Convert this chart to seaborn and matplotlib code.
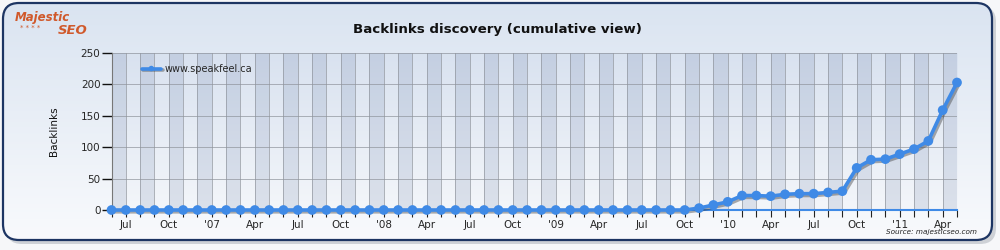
import numpy as np
import pandas as pd
import matplotlib
matplotlib.use("Agg")
import matplotlib.pyplot as plt
import matplotlib.patheffects as pe
from matplotlib.patches import FancyBboxPatch
import seaborn as sns

# ---------------- data ----------------
months = pd.date_range("2006-06-01", periods=60, freq="MS")
backlinks = [0, 0, 0, 0, 0, 0, 0, 0, 0, 0,
             0, 0, 0, 0, 0, 0, 0, 0, 0, 0,
             0, 0, 0, 0, 0, 0, 0, 0, 0, 0,
             0, 0, 0, 0, 0, 0, 0, 0, 0, 0,
             0, 3, 8, 13, 23, 23, 22, 25, 26, 26,
             28, 30, 67, 80, 81, 89, 97, 110, 159, 203]
tick_labels = ["Jul", "Oct", "'07", "Apr", "Jul", "Oct", "'08", "Apr", "Jul", "Oct",
               "'09", "Apr", "Jul", "Oct", "'10", "Apr", "Jul", "Oct", "'11", "Apr"]
series_name = "www.speakfeel.ca"
title = "Backlinks discovery (cumulative view)"
y_ticks = [0, 50, 100, 150, 200, 250]

df = pd.DataFrame({"idx": np.arange(len(months)), "month": months,
                   "Backlinks": backlinks, "site": series_name})

sns.set_theme(style="white")
plt.rcParams["font.family"] = ["DejaVu Sans"]

fig = plt.figure(figsize=(10, 2.5), dpi=100)
fig.patch.set_facecolor("#f6f7f9")

# frame background with gradient
bg = fig.add_axes([0, 0, 1, 1], zorder=-10)
bg.set_axis_off()
bg.set_xlim(0, 1000)
bg.set_ylim(250, 0)
shadow = FancyBboxPatch((6, 6), 990, 238, boxstyle="round,pad=0,rounding_size=16",
                        facecolor="#c4c8ce", edgecolor="none", alpha=0.8, zorder=-1)
bg.add_patch(shadow)
grad = np.linspace(0, 1, 256)[:, None]
top = np.array([0.855, 0.894, 0.945])
bot = np.array([0.975, 0.98, 0.99])
img = top[None, None, :] * (1 - grad[..., None]) + bot[None, None, :] * grad[..., None]
im = bg.imshow(np.repeat(img, 2, axis=1), extent=[3, 992, 240, 3], aspect="auto", zorder=0)
clip = FancyBboxPatch((3, 3), 989, 237, boxstyle="round,pad=0,rounding_size=16",
                      facecolor="none", edgecolor="none", transform=bg.transData)
bg.add_patch(clip)
im.set_clip_path(clip)
frame = FancyBboxPatch((3, 3), 989, 237, boxstyle="round,pad=0,rounding_size=16",
                       facecolor="none", edgecolor="#1d3563", linewidth=1.6, zorder=2)
bg.add_patch(frame)

# logo & title & source
bg.text(15, 17, "Majestic", color="#d0592b", fontsize=8.5, fontweight="bold",
        fontstyle="italic", ha="left", va="center", zorder=3)
bg.text(20, 28.5, "* * * *", color="#d0592b", fontsize=5, ha="left", va="center", zorder=3)
bg.text(58, 31, "SEO", color="#d0592b", fontsize=9.5, fontweight="bold",
        fontstyle="italic", ha="left", va="center", zorder=3)
bg.text(497, 30, title, fontsize=9.6, fontweight="bold", ha="center", va="center",
        color="#111111", zorder=3)
bg.text(977, 232, "Source: majesticseo.com", fontsize=5.2, fontstyle="italic",
        ha="right", va="center", color="#222222", zorder=3)

# plot axes
ax = fig.add_axes([0.1115, 0.16, 0.8455, 0.628])
ax.set_xlim(0, len(months) - 1)
ax.set_ylim(0, 250)

# plot-area gradient
ptop = np.array([0.850, 0.886, 0.940])
pbot = np.array([0.955, 0.965, 0.980])
pimg = ptop[None, None, :] * (1 - grad[..., None]) + pbot[None, None, :] * grad[..., None]
ax.imshow(np.repeat(pimg, 2, axis=1), extent=[0, len(months) - 1, 0, 250],
          aspect="auto", zorder=0)
for i in range(0, len(months) - 1, 2):
    ax.axvspan(i, i + 1, color="#1e3c78", alpha=0.11, lw=0, zorder=0.5)
for i in range(len(months)):
    ax.axvline(i, color="#8f949c", lw=0.7, alpha=0.7, zorder=0.6)
for v in y_ticks[1:]:
    ax.axhline(v, color="#8f949c", lw=0.7, alpha=0.7, zorder=0.6)

sns.lineplot(data=df, x="idx", y="Backlinks", hue="site", palette=["#3f8ae6"],
             marker="o", markersize=7, markeredgewidth=0, linewidth=2.6,
             ax=ax, zorder=3, clip_on=False)
for ln in ax.lines:
    if ln.get_marker() == "o":
        ln.set_path_effects([pe.SimpleLineShadow(offset=(1.3, -1.3), shadow_color="#333333",
                                                 alpha=0.4), pe.Normal()])

ax.set_xticks(range(len(months)), minor=True)
ax.set_xticks(range(1, len(months), 3))
ax.set_xticklabels(tick_labels)
ax.set_yticks(y_ticks)
ax.tick_params(axis="x", which="both", direction="out", length=5, width=0.8,
               color="#222222", labelsize=7.5, pad=2, bottom=True)
ax.tick_params(axis="y", direction="out", length=7, width=1, color="#111111",
               labelsize=7.5, pad=1, left=True)
ax.set_xlabel("")
ax.set_ylabel("Backlinks", fontsize=7.5, color="#111111")
ax.yaxis.set_label_coords(-0.062, 0.5)
for s in ["top", "right"]:
    ax.spines[s].set_visible(False)
ax.spines["left"].set_color("#777777")
ax.spines["left"].set_linewidth(0.8)
ax.spines["bottom"].set_color("#3f8ae6")
ax.spines["bottom"].set_linewidth(1.5)

leg = ax.legend(loc="upper left", bbox_to_anchor=(0.031, 0.955), frameon=False,
                fontsize=7, handlelength=2.0, handletextpad=0.35, borderaxespad=0)
for h in leg.legend_handles:
    h.set_markersize(4)

fig.savefig("out.png", dpi=100, facecolor=fig.get_facecolor())
